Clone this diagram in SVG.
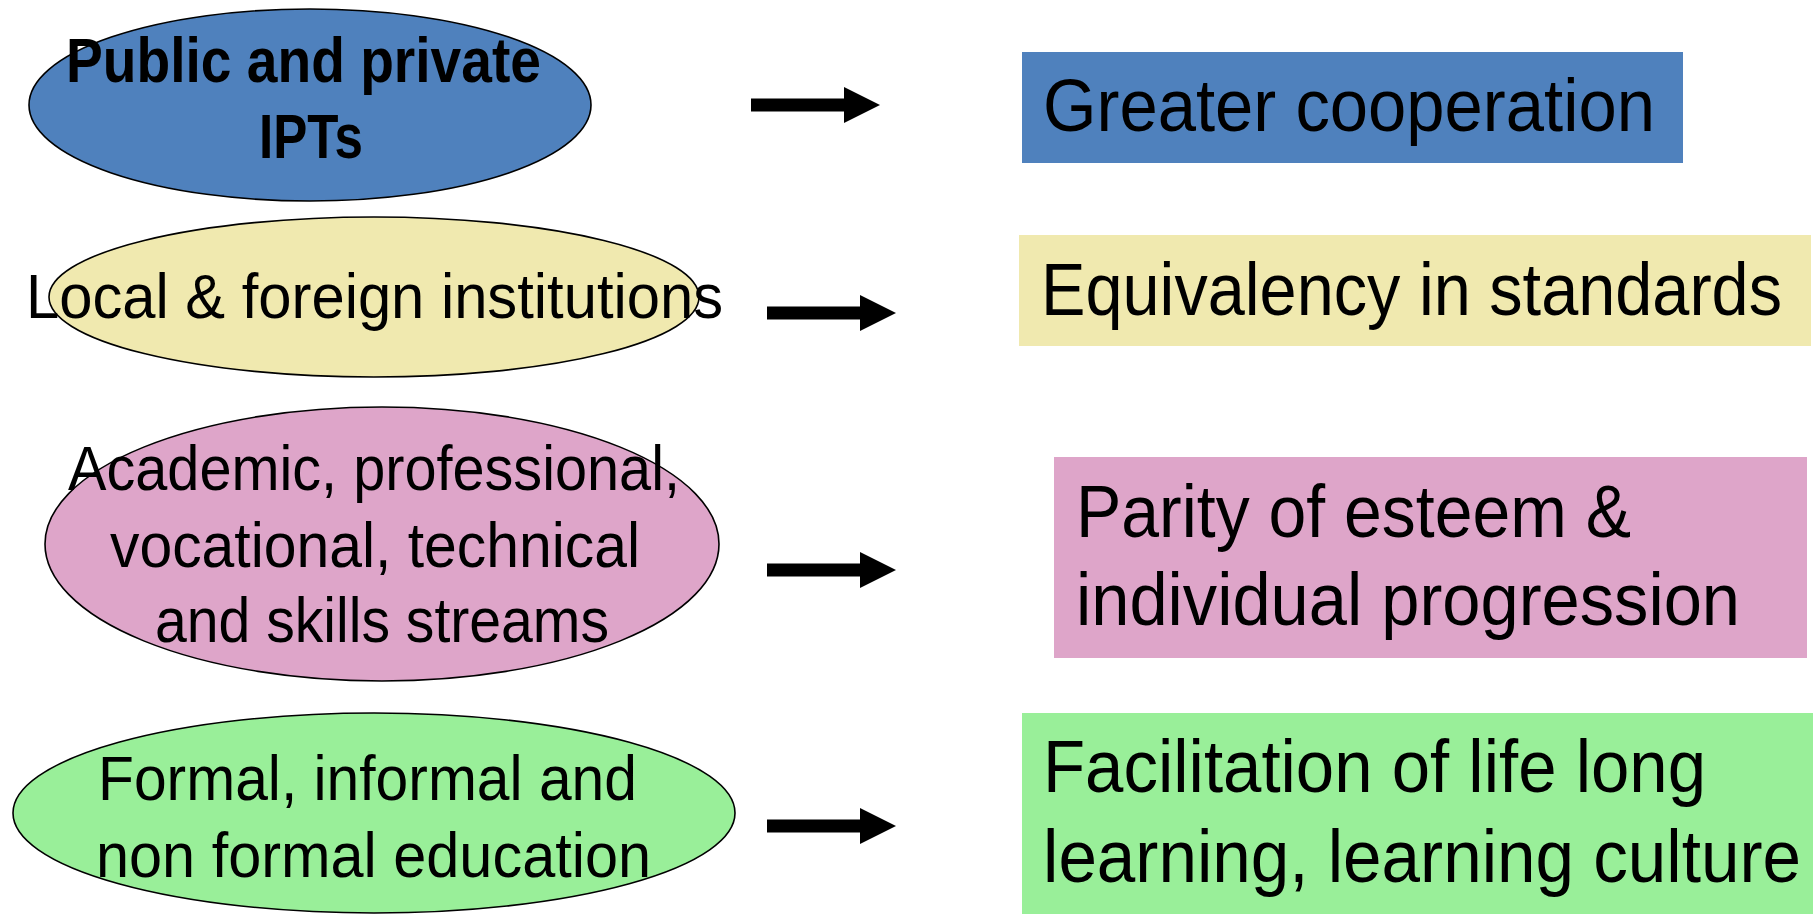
<svg xmlns="http://www.w3.org/2000/svg" width="1813" height="914" viewBox="0 0 1813 914">
<style>
.ell{stroke:#000;stroke-width:1.6}
.t{font-family:"Liberation Sans","Arial",sans-serif;fill:#000}
.l{font-size:63px}
.r{font-size:74px}
.b{font-weight:bold}
.blue{fill:#4F81BD}.yel{fill:#F0E9AF}.pink{fill:#DEA5C9}.green{fill:#99EF99}
</style>
<defs>
<path id="arr" d="M0,-6.5 H93 V-18 L129,0 L93,18 V6.5 H0 Z" fill="#000"/>
</defs>
<g id="n1">
<ellipse class="ell blue" cx="310" cy="105" rx="281" ry="96"/>
<text class="t l b" x="66" y="82" textLength="475" lengthAdjust="spacingAndGlyphs">Public and private</text>
<text class="t l b" x="259" y="158" textLength="104" lengthAdjust="spacingAndGlyphs">IPTs</text>
</g>
<g id="n2">
<ellipse class="ell yel" cx="374" cy="297" rx="325" ry="80"/>
<text class="t l" x="26" y="318" textLength="697" lengthAdjust="spacingAndGlyphs">Local &amp; foreign institutions</text>
</g>
<g id="n3">
<ellipse class="ell pink" cx="382" cy="544" rx="337" ry="137"/>
<text class="t l" x="68" y="490" textLength="612" lengthAdjust="spacingAndGlyphs">Academic, professional,</text>
<text class="t l" x="110" y="567" textLength="530" lengthAdjust="spacingAndGlyphs">vocational, technical</text>
<text class="t l" x="155" y="642" textLength="454" lengthAdjust="spacingAndGlyphs">and skills streams</text>
</g>
<g id="n4">
<ellipse class="ell green" cx="374" cy="813" rx="361" ry="100"/>
<text class="t l" x="98" y="800" textLength="539" lengthAdjust="spacingAndGlyphs">Formal, informal and</text>
<text class="t l" x="96" y="877" textLength="555" lengthAdjust="spacingAndGlyphs">non formal education</text>
</g>
<g id="b1">
<rect class="blue" x="1022" y="52" width="661" height="111"/>
<text class="t r" x="1043" y="131" textLength="612" lengthAdjust="spacingAndGlyphs">Greater cooperation</text>
</g>
<g id="b2">
<rect class="yel" x="1019" y="235" width="792" height="111"/>
<text class="t r" x="1041" y="315" textLength="741" lengthAdjust="spacingAndGlyphs">Equivalency in standards</text>
</g>
<g id="b3">
<rect class="pink" x="1054" y="457" width="753" height="201"/>
<text class="t r" x="1076" y="537" textLength="555" lengthAdjust="spacingAndGlyphs">Parity of esteem &amp;</text>
<text class="t r" x="1076" y="625" textLength="664" lengthAdjust="spacingAndGlyphs">individual progression</text>
</g>
<g id="b4">
<rect class="green" x="1022" y="713" width="791" height="201"/>
<text class="t r" x="1043" y="792" textLength="663" lengthAdjust="spacingAndGlyphs">Facilitation of life long</text>
<text class="t r" x="1043" y="882" textLength="758" lengthAdjust="spacingAndGlyphs">learning, learning culture</text>
</g>
<g id="connectors">
<use href="#arr" x="751" y="105"/>
<use href="#arr" x="767" y="313"/>
<use href="#arr" x="767" y="570"/>
<use href="#arr" x="767" y="826"/>
</g>
</svg>
